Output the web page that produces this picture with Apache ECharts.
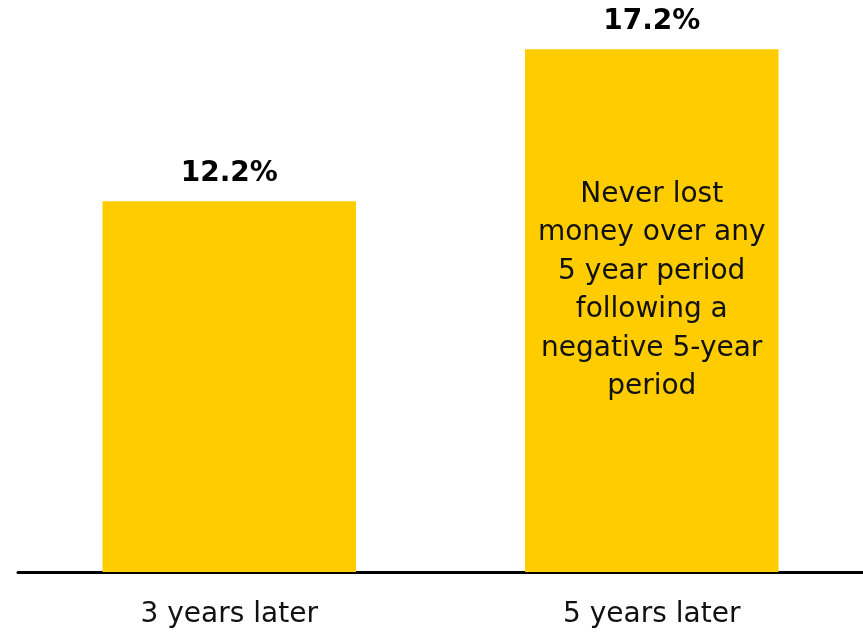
<!DOCTYPE html>
<html><head><meta charset="utf-8">
<script src="https://cdn.jsdelivr.net/npm/echarts@6/dist/echarts.min.js"></script>
<style>html,body{margin:0;padding:0;background:#fff}#c{width:863px;height:635px}</style>
</head><body><div id="c"></div>
<script>
const categories = ['3 years later', '5 years later'];
const values = [12.2, 17.2];
const annotationLines = ['Never lost', 'money over any', '5 year period', 'following a', 'negative 5-year', 'period'];
const annotationAt = ['5 years later', 9.25];

const FONT = 'DejaVu Sans';
const chart = echarts.init(document.getElementById('c'), null, {renderer: 'canvas'});
chart.setOption({
  animation: false,
  grid: {left: 18, right: 0, top: 25, bottom: 63},
  xAxis: {
    type: 'category', data: categories,
    axisLine: {lineStyle: {color: '#000', width: 3}},
    axisTick: {show: false},
    axisLabel: {color: '#111', fontFamily: FONT, fontSize: 28, margin: 29}
  },
  yAxis: {type: 'value', min: 0, max: 18, show: false, splitLine: {show: false}},
  series: [{
    type: 'bar', data: values, barCategoryGap: '40%',
    itemStyle: {color: '#FFCC00'},
    label: {show: true, position: 'top', distance: 14, color: '#000', fontFamily: FONT,
      fontWeight: 'bold', fontSize: 28, formatter: p => p.value.toFixed(1) + '%'},
    markPoint: {
      symbol: 'rect', symbolSize: 0,
      data: [{coord: annotationAt}],
      label: {show: true, position: 'inside', color: '#111', fontFamily: FONT, fontSize: 28,
        lineHeight: 38.5, align: 'center', formatter: annotationLines.join('\n')}
    }
  }]
});
</script></body></html>
